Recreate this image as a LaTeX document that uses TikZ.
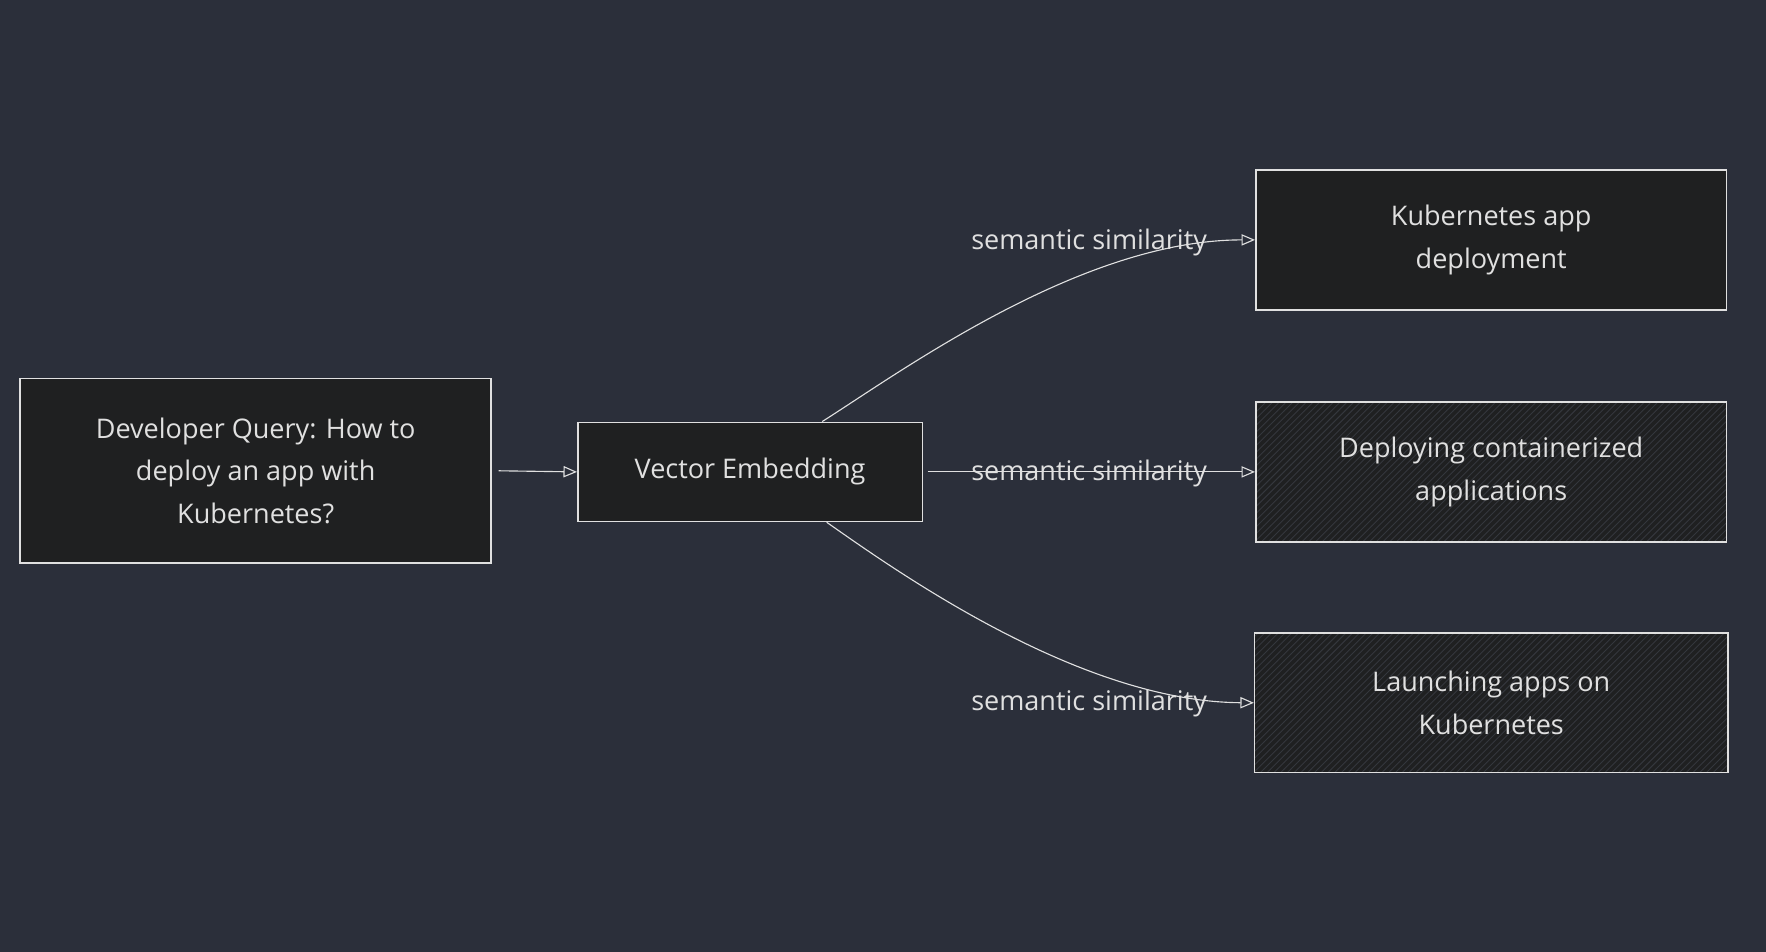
\documentclass[tikz,border=0pt]{standalone}
\usepackage{fontspec}
\setmainfont{Open Sans}
\usetikzlibrary{arrows.meta,patterns}
\definecolor{bg}{HTML}{2B2F3A}
\definecolor{boxfill}{HTML}{1F2021}
\definecolor{hatch}{HTML}{34373D}
\definecolor{ink}{HTML}{E0E0E0}
\begin{document}
\begin{tikzpicture}[x=0.5pt,y=-0.5pt,
  box/.style={draw=ink,fill=boxfill,line width=0.7pt,align=center,text=ink,font=\fontsize{12}{19}\selectfont,inner sep=0pt},
  hbox/.style={draw=ink,line width=0.7pt,align=center,text=ink,font=\fontsize{12}{19}\selectfont,inner sep=0pt,
    preaction={fill=boxfill},preaction={pattern=north east lines,pattern color=hatch}},
  conn/.style={draw=ink,line width=0.5pt,-{Triangle[open,length=6pt,width=5pt]}},
  lbl/.style={text=ink,font=\fontsize{12}{14}\selectfont}]
\fill[bg] (0,0) rectangle (1568,845);
\useasboundingbox (0,0) rectangle (1568,845);
\node[box,minimum width=209pt,minimum height=82pt] (q) at (227,418) {Developer Query: How to\\deploy an app with\\Kubernetes?};
\node[box,minimum width=153pt,minimum height=44pt] (v) at (666,419) {Vector Embedding};
\node[box,minimum width=209pt,minimum height=62pt] (k1) at (1324,213) {Kubernetes app\\deployment};
\node[hbox,minimum width=209pt,minimum height=62pt] (k2) at (1324,419) {Deploying containerized\\applications};
\node[hbox,minimum width=210pt,minimum height=62pt] (k3) at (1324,624) {Launching apps on\\Kubernetes};
\draw[conn] ([xshift=3pt]q.east) -- (v.west);
\draw[conn] ([xshift=32pt]v.north) .. controls (800,330) and (960,213) .. (k1.west);
\draw[conn] ([xshift=2pt]v.east) -- (k2.west);
\draw[conn] ([xshift=34pt]v.south) .. controls (800,510) and (960,623) .. (k3.west);
\node[lbl] (l1) at (967,215) {semantic similarity};
\node[lbl] (l2) at (967,420) {semantic similarity};
\node[lbl] (l3) at (967,625) {semantic similarity};
\end{tikzpicture}
\end{document}
